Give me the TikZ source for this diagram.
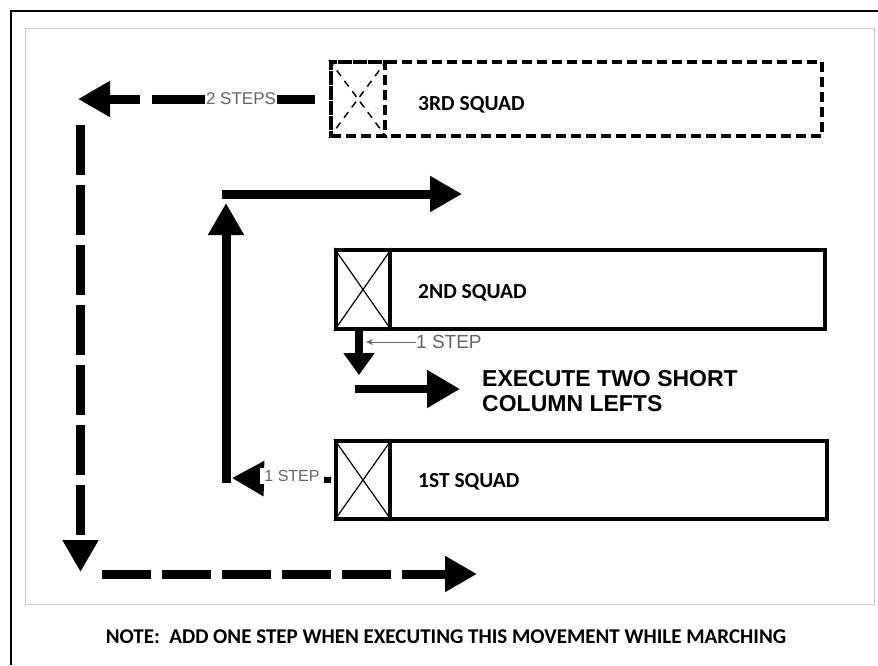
\documentclass[tikz,border=0pt]{standalone}
\usepackage{fontspec}
\setmainfont{Carlito}
\newfontfamily\arialfont{Liberation Sans}
\usetikzlibrary{arrows.meta}

\begin{document}
\begin{tikzpicture}[x=1pt,y=-1pt,
  squad/.style={draw,line width=4pt,anchor=north west,inner sep=0pt,minimum height=78pt},
  leader/.style={squad,minimum width=54pt},
  ghost/.style={dash pattern=on 10pt off 5pt},
  sqlabel/.style={anchor=base west,inner sep=0pt,font=\bfseries\fontsize{21.5}{24}\selectfont},
  steplabel/.style={fill=white,inner sep=2pt,text=black!60,font=\arialfont\fontsize{17}{20}\selectfont},
  bigarrow/.style={line width=9pt,-{Triangle[length=32pt,width=34pt]}},
  march/.style={bigarrow,dash pattern=on 50pt off 10pt}]
\useasboundingbox (0,0) rectangle (878,665);
\draw[line width=2.5pt] (11,665) -- (11,11) -- (878,11);
\draw[black!20,line width=1pt] (25,28) rectangle (874,604);

% squads
\node[squad,ghost,minimum width=491pt,minimum height=74pt] (sq3) at (329,60) {};
\node[leader,ghost,minimum height=74pt] (ld3) at (329,60) {};
\draw[line width=1.5pt,dash pattern=on 7pt off 6pt] (ld3.north west) -- (ld3.south east) (ld3.north east) -- (ld3.south west);
\node[sqlabel] (lbl3) at (418,110) {3RD SQUAD};

\node[squad,minimum width=489pt,minimum height=79pt] (sq2) at (334,248) {};
\node[leader,minimum height=79pt] (ld2) at (334,248) {};
\draw[line width=1.2pt] (ld2.north west) -- (ld2.south east) (ld2.north east) -- (ld2.south west);
\node[sqlabel] (lbl2) at (418,298) {2ND SQUAD};

\node[squad,minimum width=491pt] (sq1) at (334,439) {};
\node[leader] (ld1) at (334,439) {};
\draw[line width=1.2pt] (ld1.north west) -- (ld1.south east) (ld1.north east) -- (ld1.south west);
\node[sqlabel] (lbl1) at (418,487) {1ST SQUAD};

% 3rd squad: two steps out, then down and across
\coordinate (s3a) at (315,99);
\coordinate (s3b) at (78,99);
\coordinate (s3c) at (80.5,125);
\coordinate (s3d) at (80.5,572);
\coordinate (s3e) at (102,574);
\coordinate (s3f) at (477,574);
\draw[bigarrow,dash pattern=on 163pt off 12pt on 300pt] (s3a) -- (s3b);
\node[steplabel,inner xsep=1pt] (two) at (241,99) {2 STEPS};
\draw[march] (s3c) -- (s3d);
\draw[march,dash pattern=on 49pt off 11pt] (s3e) -- (s3f);

% 1st squad: one step out, then up and across
\coordinate (s1a) at (232,478);
\coordinate (s1b) at (226,483);
\coordinate (s1c) at (226,203);
\coordinate (s1d) at (222,194);
\coordinate (s1e) at (462,194);
\draw[bigarrow,line width=6pt,shorten <=3pt] (ld1.west) -- (s1a);
\node[steplabel,inner xsep=4pt,font=\arialfont\fontsize{16}{18}\selectfont] (one1) at (292,476) {1 STEP};
\draw[bigarrow] (s1b) -- (s1c);
\draw[bigarrow] (s1d) -- (s1e);

% 2nd squad: two short column lefts
\coordinate (s2a) at (359,375);
\coordinate (s2b) at (355,389);
\coordinate (s2c) at (460,389);
\draw[line width=8pt,-{Triangle[length=22pt,width=30pt]}] ([xshift=25pt]ld2.south west) -- (s2a);
\draw[line width=8pt,-{Triangle[length=33pt,width=36pt]}] (s2b) -- (s2c);
\node[steplabel,anchor=west,inner sep=0pt,font=\arialfont\fontsize{19}{22}\selectfont] (one2) at (416,342) {1 STEP};
\draw[black!60,line width=1pt,-{Stealth[length=7pt,width=6pt]}] (one2.west) -- (366,342);
\node[anchor=north west,inner sep=0pt,align=left,font=\arialfont\bfseries\fontsize{23}{25}\selectfont] (exec) at (482,370) {EXECUTE TWO SHORT\\COLUMN LEFTS};

\node[anchor=base,inner sep=0pt,font=\bfseries\fontsize{21}{24}\selectfont] (note) at (446,643) {NOTE:\ \ ADD ONE STEP WHEN EXECUTING THIS MOVEMENT WHILE MARCHING};
\end{tikzpicture}
\end{document}
